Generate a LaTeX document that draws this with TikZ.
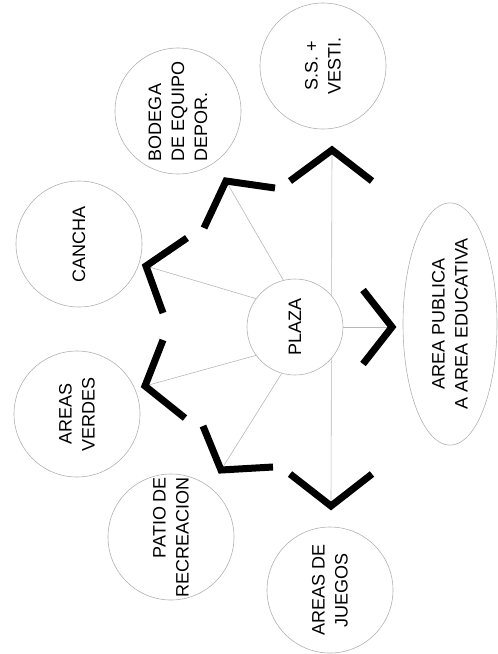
\documentclass[tikz,border=0pt]{standalone}
\usepackage{fontspec}
\setmainfont{Liberation Sans}
\usetikzlibrary{shapes.geometric,backgrounds}

\tikzset{
  zone/.style={circle, draw=black!30, line width=0.6pt, fill=white,
    minimum size=126pt, inner sep=0pt, rotate=90, align=center,
    font=\fontsize{18}{23}\selectfont},
  link/.style={draw=black!28, line width=0.6pt},
  wall/.style={line width=7pt, line join=miter},
}

\begin{document}
\begin{tikzpicture}[x=1pt,y=-1pt]
	\useasboundingbox (0,0) rectangle (498,654);
	% corners of the walls
	\coordinate (cSS) at (332,150);
	\coordinate (cBod) at (226,181);
	\coordinate (cCan) at (146,266);
	\coordinate (cVer) at (145,386);
	\coordinate (cPat) at (221,470);
	\coordinate (cJue) at (331,506);
	\coordinate (cPub) at (392,327);
	% spaces
	\node (plaza) [zone, minimum size=96pt] at (295,327) {PLAZA};
	\node (ss) [zone] at (323,66) {S.S. +\\VESTI.};
	\node (bod) [zone, align=left] at (178,111) {BODEGA\\DE EQUIPO\\DEPOR.};
	\node (can) [zone] at (79,244) {CANCHA};
	\node (ver) [zone] at (77,414) {AREAS\\VERDES};
	\node (pat) [zone, align=right] at (171,537) {PATIO DE\\RECREACION};
	\node (jue) [zone] at (330,590) {AREAS DE\\JUEGOS};
	\node (pub) [zone, ellipse, minimum width=214pt, minimum height=94pt] at (450,324) {AREA PUBLICA\\A AREA EDUCATIVA};
	% links (plaza is turned by 90, so its border angles are too)
	\begin{pgfonlayer}{background}
		\path[link] (cSS) -- (cJue);
	\end{pgfonlayer}
	\path[link] (plaza.54) -- (cCan);
	\path[link] (plaza.14) -- (cBod);
	\path[link] (plaza.126) -- (cVer);
	\path[link] (plaza.164) -- (cPat);
	\path[link] (plaza) -- (cPub);
	% walls
	\draw[wall] (290,181) -- (cSS) -- (372,181);
	\draw[wall] (204,228) -- (cBod) -- (275,188);
	\draw[wall] (187,238) -- (cCan) -- (163,313);
	\draw[wall] (163,340) -- (cVer) -- (185,418);
	\draw[wall] (203,426) -- (cPat) -- (273,467);
	\draw[wall] (290,474) -- (cJue) -- (372,474);
	\draw[wall] (363,290) -- (cPub) -- (363,364);
\end{tikzpicture}
\end{document}
